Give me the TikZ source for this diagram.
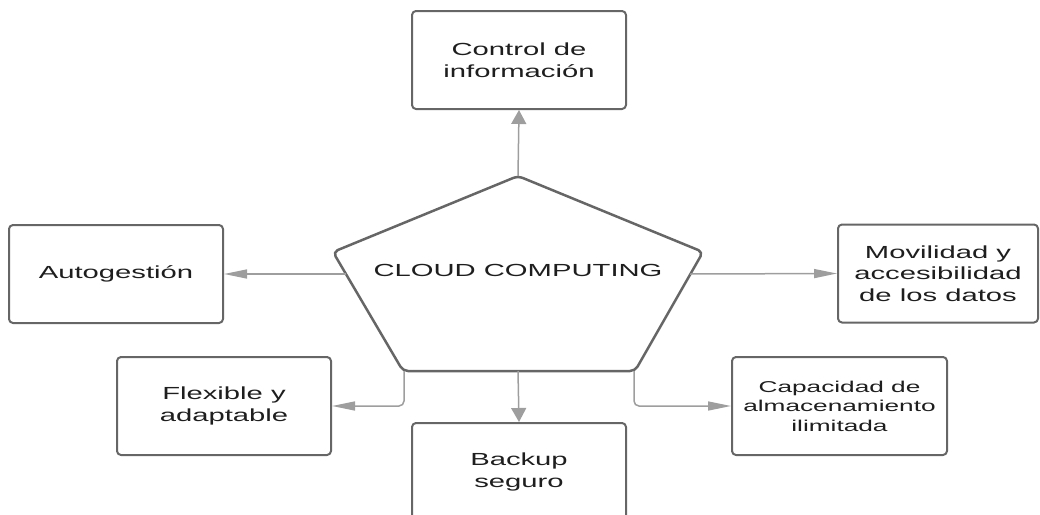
\documentclass[tikz,border=0pt]{standalone}
\usepackage{fontspec}
\setmainfont{Liberation Sans}[FakeStretch=1.67]
\usetikzlibrary{arrows.meta}
\definecolor{boxgray}{HTML}{666666}
\definecolor{linegray}{HTML}{9E9E9E}
\definecolor{txtgray}{HTML}{1E1E1E}
\begin{document}
\begin{tikzpicture}[x=1pt, y=-1pt, line join=round,
  info box/.style={rectangle, draw=boxgray, line width=2pt, rounded corners=4pt, minimum width=214pt, minimum height=98pt, align=center, text=txtgray, inner sep=0pt, font=\fontsize{17.5}{21.5}\selectfont},
  link/.style={draw=linegray, line width=1.5pt},
  h arrow/.style={link, -{Triangle[length=23pt, width=9pt]}},
  v arrow/.style={link, -{Triangle[length=14pt, width=15pt]}}]
\useasboundingbox (0,0) rectangle (1040,514);
\clip (0,0) rectangle (1040,514);
% pentagon corners and exits
\coordinate (ptop) at (518,176);
\coordinate (pleft) at (333,252);
\coordinate (pright) at (703,252);
\coordinate (pbl) at (403,371);
\coordinate (pbr) at (635,371);
\coordinate (pl) at (346,274);
\coordinate (pr) at (690,274);
\coordinate (pb) at (518,371);
\coordinate (pbl2) at (404,371);
\coordinate (pbr2) at (634,371);
\draw[draw=boxgray, line width=2.5pt, rounded corners=5pt] (ptop) -- (pright) -- (pbr) -- (pbl) -- (pleft) -- cycle;
\node[text=txtgray, font=\fontsize{17.5}{21.5}\selectfont] (cloud) at (518,270) {CLOUD COMPUTING};
\begin{scope}[every node/.style={info box}]
\node (ctrl) at (519,60) {Control de\\información};
\node (auto) at (116,274) {Autogestión};
\node[minimum width=200pt] (movil) at (938,273.5) {Movilidad y\\accesibilidad\\de los datos};
\node (flex) at (224,406) {Flexible y\\adaptable};
\node (backup) at (519,472) {Backup\\seguro};
\node[font=\fontsize{15.7}{19.5}\selectfont, minimum width=215pt] (capac) at (839.5,406) {Capacidad de\\almacenamiento\\ilimitada};
\end{scope}
\begin{scope}
\draw[v arrow] (ptop) -- (ctrl.south);
\draw[h arrow] (pl) -- (auto.east);
\draw[h arrow] (pr) -- (movil.west);
\draw[v arrow] (pb) -- (backup.north);
\draw[h arrow, rounded corners=5pt] (pbl2) |- (flex.east);
\draw[h arrow, rounded corners=5pt] (pbr2) |- (capac.west);
\end{scope}
\end{tikzpicture}
\end{document}
